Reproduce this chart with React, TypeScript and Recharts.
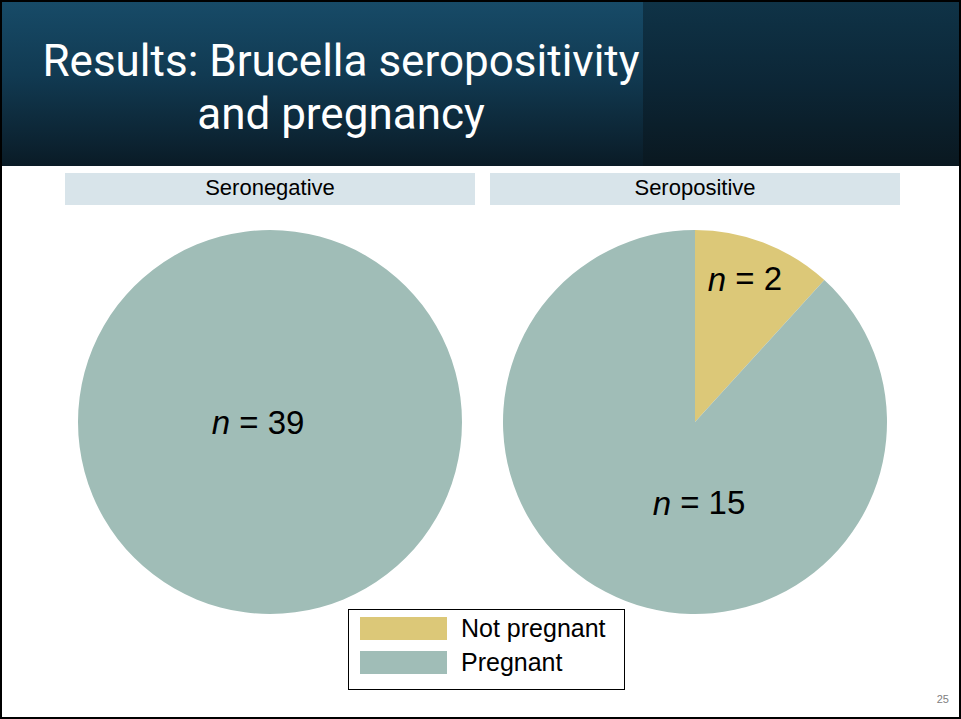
import { PieChart, Pie, Cell, Legend } from 'recharts';

const TITLE_LINES = ['Results: Brucella seropositivity', 'and pregnancy'];
const GROUPS = ['Seronegative', 'Seropositive'];
const STATUS = ['Not pregnant', 'Pregnant'];
const SERONEGATIVE = [0, 39];
const SEROPOSITIVE = [2, 15];
const PAGE_NUMBER = '25';

const COLORS: Record<string, string> = {
    'Not pregnant': '#dcc878',
    'Pregnant': '#a0bdb7',
};

const toData = (values: number[]) =>
    STATUS.map((name, i) => ({ name, value: values[i] })).filter(d => d.value > 0);

const seronegData = toData(SERONEGATIVE);
const seroposData = toData(SEROPOSITIVE);

const RADIAN = Math.PI / 180;
const FONT = '"Liberation Sans", Arial, sans-serif';

// where PowerPoint put the n labels, roughly
const LABEL_RADIUS: Record<string, number> = { 'Not pregnant': 0.79, 'Pregnant': 0.42 };
const LABEL_SHIFT: Record<string, number> = { 'Not pregnant': 2, 'Pregnant': 24 };

function renderLabel(props: any) {
    const { cx, cy, midAngle, outerRadius, percent, value, name } = props;
    let x = cx - 12;
    let y = cy;
    if (percent < 1) {
        const r = outerRadius * LABEL_RADIUS[name];
        const a = (midAngle + LABEL_SHIFT[name]) * RADIAN;
        x = cx + r * Math.cos(a);
        y = cy - r * Math.sin(a);
    }
    return (
        <text x={x} y={y} textAnchor="middle" dominantBaseline="central" fill="#000" fontSize={33} fontFamily={FONT}>
            <tspan fontStyle="italic">n</tspan> = {value}
        </text>
    );
}

function LegendBox() {
    return (
        <div style={{ width: 277, height: 81, border: '1.5px solid #000', boxSizing: 'border-box', background: '#fff', padding: '7px 0 0 11px' }}>
            {STATUS.map(s => (
                <div key={s} style={{ display: 'flex', alignItems: 'center', height: 23, marginBottom: 11 }}>
                    <div style={{ width: 87, height: 23, background: COLORS[s] }} />
                    <span style={{ marginLeft: 14, fontSize: 25, fontFamily: FONT, color: '#000' }}>{s}</span>
                </div>
            ))}
        </div>
    );
}

export default function App() {
    return (
        <div style={{ position: 'absolute', left: 0, top: 0, width: 961, height: 719, background: '#fff', overflow: 'hidden' }}>
            {/* header */}
            <div style={{ position: 'absolute', left: 0, top: 0, width: 643, height: 166, background: 'linear-gradient(180deg, #174b68 0%, #113a52 45%, #0a1b26 100%)' }} />
            <div style={{ position: 'absolute', left: 643, top: 0, width: 318, height: 166, background: 'linear-gradient(180deg, #0f3347 0%, #0c2636 50%, #0a1820 100%)' }} />
            <div style={{ position: 'absolute', left: 0, top: 35, width: 682, textAlign: 'center', color: '#fff', fontFamily: 'Roboto, sans-serif', fontSize: 44, lineHeight: '53px' }}>
                {TITLE_LINES.map(t => <div key={t}>{t}</div>)}
            </div>

            {/* group strips */}
            {GROUPS.map((g, i) => (
                <div key={g} style={{ position: 'absolute', left: 65 + i * 425, top: 173, width: 410, height: 32, background: '#d8e4ea', textAlign: 'center', fontFamily: FONT, fontSize: 22, lineHeight: '30px', color: '#000' }}>
                    {g}
                </div>
            ))}

            <div style={{ position: 'absolute', left: 0, top: 0 }}>
                <PieChart width={961} height={719} margin={{ top: 0, right: 0, bottom: 0, left: 0 }}>
                    <Pie data={seronegData} dataKey="value" nameKey="name" cx={270} cy={422} outerRadius={192}
                        startAngle={90} endAngle={-270} stroke="none" label={renderLabel} labelLine={false} isAnimationActive={false}>
                        {seronegData.map(d => <Cell key={d.name} fill={COLORS[d.name]} />)}
                    </Pie>
                    <Pie data={seroposData} dataKey="value" nameKey="name" cx={695} cy={422} outerRadius={192}
                        startAngle={90} endAngle={-270} stroke="none" label={renderLabel} labelLine={false} isAnimationActive={false}>
                        {seroposData.map(d => <Cell key={d.name} fill={COLORS[d.name]} />)}
                    </Pie>
                    <Legend content={() => <LegendBox />} wrapperStyle={{ position: 'absolute', left: 348, top: 609, width: 277, height: 81 }} />
                </PieChart>
            </div>

            <div style={{ position: 'absolute', right: 12, top: 693, fontFamily: FONT, fontSize: 11, color: '#808080' }}>{PAGE_NUMBER}</div>
            <div style={{ position: 'absolute', left: 0, top: 0, width: 961, height: 719, border: '2px solid #000', boxSizing: 'border-box', pointerEvents: 'none' }} />
        </div>
    );
}
